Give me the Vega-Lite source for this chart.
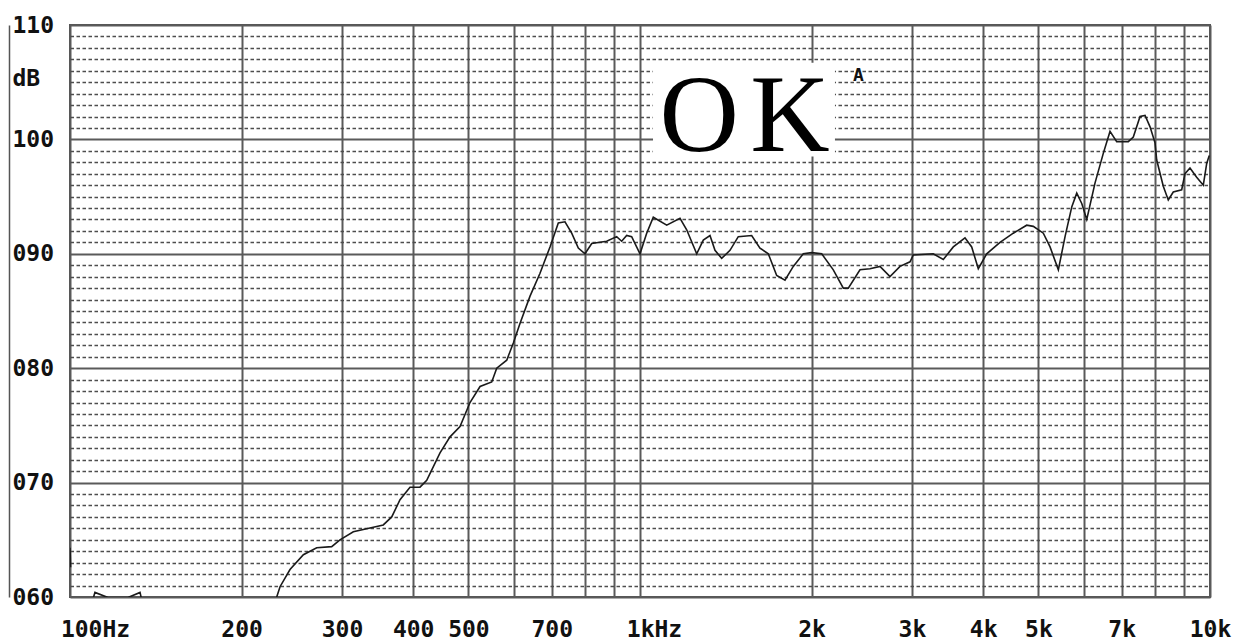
{
  "$schema": "https://vega.github.io/schema/vega-lite/v6.json",
  "width": 1140,
  "height": 572,
  "autosize": {"type": "none"},
  "padding": {"left": 70, "top": 25, "right": 32, "bottom": 47},
  "background": "white",
  "config": {
    "view": {"stroke": "#555555", "strokeWidth": 2},
    "axis": {"labelFont": "DejaVu Sans Mono", "labelFontWeight": "bold", "labelFontSize": 23, "labelColor": "#111111"}
  },
  "resolve": {"axis": {"x": "independent", "y": "independent"}},
  "layer": [
    {
      "data": {"values": [{"f1": 1054, "f2": 2198, "d1": 98.5, "d2": 106.7}]},
      "mark": {"type": "rect", "fill": "white", "stroke": null},
      "encoding": {
        "x": {"field": "f1", "type": "quantitative", "scale": {"type": "log", "domain": [100, 10000], "nice": false}, "axis": null},
        "x2": {"field": "f2"},
        "y": {"field": "d1", "type": "quantitative", "scale": {"domain": [60, 110], "nice": false, "zero": false},
          "axis": {"orient": "left", "values": [61,62,63,64,65,66,67,68,69,71,72,73,74,75,76,77,78,79,81,82,83,84,85,86,87,88,89,91,92,93,94,95,96,97,98,99,101,102,103,104,105,106,107,108,109],
            "grid": true, "gridDash": [3.5, 2.5], "gridColor": "#4d4d4d", "gridWidth": 1.3, "labels": false, "ticks": false, "tickSize": 0, "domain": false, "title": null}},
        "y2": {"field": "d2"}
      }
    },
    {
      "data": {"values": [
        {"s": 1, "f": 100, "db": 64.3}, {"s": 1, "f": 100.25, "db": 62.6},
        {"s": 2, "f": 108.5, "db": 59.0}, {"s": 2, "f": 110.6, "db": 60.4}, {"s": 2, "f": 116.6, "db": 59.95}, {"s": 2, "f": 126.4, "db": 59.95}, {"s": 2, "f": 132.7, "db": 60.4}, {"s": 2, "f": 136, "db": 58}, {"s": 2, "f": 200, "db": 45}, {"s": 2, "f": 225, "db": 55},
        {"s": 2, "f": 230.5, "db": 60.0}, {"s": 2, "f": 233.6, "db": 60.9}, {"s": 2, "f": 243.2, "db": 62.4}, {"s": 2, "f": 256.7, "db": 63.7}, {"s": 2, "f": 270.9, "db": 64.3}, {"s": 2, "f": 287.8, "db": 64.4}, {"s": 2, "f": 297.6, "db": 65.0}, {"s": 2, "f": 314.1, "db": 65.7}, {"s": 2, "f": 340.5, "db": 66.1}, {"s": 2, "f": 354.5, "db": 66.3}, {"s": 2, "f": 366.8, "db": 67.0}, {"s": 2, "f": 379.3, "db": 68.5}, {"s": 2, "f": 394.9, "db": 69.6}, {"s": 2, "f": 411.2, "db": 69.6}, {"s": 2, "f": 422.5, "db": 70.2}, {"s": 2, "f": 445.8, "db": 72.6}, {"s": 2, "f": 464.2, "db": 74.0}, {"s": 2, "f": 483.3, "db": 74.9}, {"s": 2, "f": 503.2, "db": 77.0}, {"s": 2, "f": 524.1, "db": 78.4}, {"s": 2, "f": 549.4, "db": 78.8}, {"s": 2, "f": 560.6, "db": 80.0}, {"s": 2, "f": 583.7, "db": 80.7}, {"s": 2, "f": 599.5, "db": 82.2}, {"s": 2, "f": 615.8, "db": 83.9}, {"s": 2, "f": 641.3, "db": 86.3}, {"s": 2, "f": 667.7, "db": 88.3}, {"s": 2, "f": 695.2, "db": 90.6}, {"s": 2, "f": 718.9, "db": 92.7}, {"s": 2, "f": 738.6, "db": 92.8}, {"s": 2, "f": 758.9, "db": 91.8}, {"s": 2, "f": 779.4, "db": 90.5}, {"s": 2, "f": 800.8, "db": 90.0}, {"s": 2, "f": 822.8, "db": 90.9}, {"s": 2, "f": 874.0, "db": 91.1}, {"s": 2, "f": 910.0, "db": 91.5}, {"s": 2, "f": 928.6, "db": 91.1}, {"s": 2, "f": 947.6, "db": 91.6}, {"s": 2, "f": 966.9, "db": 91.5}, {"s": 2, "f": 1000, "db": 90.0},
        {"s": 2, "f": 1027.4, "db": 91.8}, {"s": 2, "f": 1055.2, "db": 93.2}, {"s": 2, "f": 1114.0, "db": 92.5}, {"s": 2, "f": 1175.4, "db": 93.1}, {"s": 2, "f": 1207.6, "db": 92.1}, {"s": 2, "f": 1257.4, "db": 90.0}, {"s": 2, "f": 1291.4, "db": 91.2}, {"s": 2, "f": 1326.8, "db": 91.6}, {"s": 2, "f": 1353.8, "db": 90.3}, {"s": 2, "f": 1390.9, "db": 89.6}, {"s": 2, "f": 1438.4, "db": 90.3}, {"s": 2, "f": 1487.4, "db": 91.5}, {"s": 2, "f": 1570.1, "db": 91.6}, {"s": 2, "f": 1623.7, "db": 90.5}, {"s": 2, "f": 1679.1, "db": 90.0}, {"s": 2, "f": 1737.0, "db": 88.1}, {"s": 2, "f": 1796.3, "db": 87.7}, {"s": 2, "f": 1857.5, "db": 88.9}, {"s": 2, "f": 1934.1, "db": 90.0}, {"s": 2, "f": 2000.9, "db": 90.1}, {"s": 2, "f": 2083.4, "db": 90.0}, {"s": 2, "f": 2183.3, "db": 88.6}, {"s": 2, "f": 2273.3, "db": 87.0}, {"s": 2, "f": 2319.7, "db": 87.0}, {"s": 2, "f": 2432.0, "db": 88.6}, {"s": 2, "f": 2532.2, "db": 88.7}, {"s": 2, "f": 2636.7, "db": 88.9}, {"s": 2, "f": 2745.4, "db": 88.0}, {"s": 2, "f": 2858.5, "db": 88.9}, {"s": 2, "f": 2976.4, "db": 89.3}, {"s": 2, "f": 3016.3, "db": 89.9}, {"s": 2, "f": 3269.3, "db": 90.0}, {"s": 2, "f": 3405.0, "db": 89.5}, {"s": 2, "f": 3545.3, "db": 90.6}, {"s": 2, "f": 3716.7, "db": 91.4}, {"s": 2, "f": 3818.7, "db": 90.6}, {"s": 2, "f": 3922.0, "db": 88.7}, {"s": 2, "f": 4057.3, "db": 90.0}, {"s": 2, "f": 4281.3, "db": 91.0}, {"s": 2, "f": 4517.5, "db": 91.8}, {"s": 2, "f": 4768.9, "db": 92.5}, {"s": 2, "f": 4897.8, "db": 92.4}, {"s": 2, "f": 5100, "db": 91.8}, {"s": 2, "f": 5240.6, "db": 90.6}, {"s": 2, "f": 5419.3, "db": 88.6}, {"s": 2, "f": 5568, "db": 91.5}, {"s": 2, "f": 5720.9, "db": 94.1}, {"s": 2, "f": 5837.3, "db": 95.3}, {"s": 2, "f": 5956.5, "db": 94.4}, {"s": 2, "f": 6078.1, "db": 93.0}, {"s": 2, "f": 6285.5, "db": 96.2}, {"s": 2, "f": 6500, "db": 98.8}, {"s": 2, "f": 6676.8, "db": 100.7}, {"s": 2, "f": 6860.1, "db": 99.8}, {"s": 2, "f": 7189.3, "db": 99.8}, {"s": 2, "f": 7336, "db": 100.2}, {"s": 2, "f": 7538.5, "db": 102.0}, {"s": 2, "f": 7692.1, "db": 102.1}, {"s": 2, "f": 7849.2, "db": 101.1}, {"s": 2, "f": 8008.1, "db": 99.7}, {"s": 2, "f": 8063.3, "db": 98.2}, {"s": 2, "f": 8280.2, "db": 95.9}, {"s": 2, "f": 8449.1, "db": 94.7}, {"s": 2, "f": 8621.5, "db": 95.4}, {"s": 2, "f": 8919.4, "db": 95.6}, {"s": 2, "f": 9039.1, "db": 97.0}, {"s": 2, "f": 9223.7, "db": 97.5}, {"s": 2, "f": 9475.8, "db": 96.7}, {"s": 2, "f": 9733.1, "db": 96.0}, {"s": 2, "f": 9867.7, "db": 97.9}, {"s": 2, "f": 9971.7, "db": 98.6}
      ]},
      "mark": {"type": "line", "clip": true, "stroke": "#1a1a1a", "strokeWidth": 1.6, "interpolate": "linear"},
      "encoding": {
        "x": {"field": "f", "type": "quantitative", "scale": {"type": "log", "domain": [100, 10000], "nice": false},
          "axis": {"orient": "bottom", "values": [100,200,300,400,500,600,700,800,900,1000,2000,3000,4000,5000,6000,7000,8000,9000,10000],
            "grid": true, "gridColor": "#5a5a5a", "gridWidth": 2, "ticks": false, "tickSize": 0, "domain": false,
            "labelPadding": 21, "labelBaseline": "top", "labelAlign": "center",
            "labelOffset": {"condition": [{"test": "datum.value == 100", "value": 25}, {"test": "datum.value == 1000", "value": 14}], "value": 0},
            "labelExpr": "datum.value == 100 ? '100Hz' : datum.value == 1000 ? '1kHz' : datum.value == 10000 ? '10k' : datum.value > 1000 ? (indexof([2000,3000,4000,5000,7000], datum.value) >= 0 ? (datum.value / 1000) + 'k' : '') : (indexof([200,300,400,500,700], datum.value) >= 0 ? '' + datum.value : '')",
            "labelOverlap": false, "labelFlush": false, "labelBound": false, "title": null}},
        "y": {"field": "db", "type": "quantitative", "scale": {"domain": [60, 110], "nice": false, "zero": false},
          "axis": {"orient": "left", "values": [60, 70, 80, 90, 100, 110], "grid": true, "gridColor": "#5a5a5a", "gridWidth": 2, "labels": false, "ticks": false, "tickSize": 0, "domain": false, "title": null}},
        "detail": {"field": "s", "type": "nominal"}
      }
    },
    {
      "data": {"values": [{"t": "O", "f": 1270, "db": 99.0}, {"t": "K", "f": 1833, "db": 99.0}]},
      "mark": {"type": "text", "font": "Liberation Serif", "fontSize": 110, "baseline": "alphabetic", "align": "center", "color": "#000000"},
      "encoding": {
        "x": {"field": "f", "type": "quantitative", "scale": {"type": "log", "domain": [100, 10000], "nice": false}, "axis": null},
        "y": {"field": "db", "type": "quantitative", "scale": {"domain": [60, 110], "nice": false, "zero": false},
          "axis": {"orient": "left", "values": [60, 70, 80, 90, 100, 105.3, 110], "grid": false, "ticks": false, "tickSize": 0,
            "domain": true, "domainColor": "#555555", "domainWidth": 1.5, "offset": 61,
            "labelAlign": "left", "labelPadding": -3, "labelBaseline": "middle",
            "labelExpr": "datum.value == 105.3 ? 'dB' : (datum.value < 100 ? '0' + datum.value : '' + datum.value)",
            "labelOverlap": false, "labelFlush": false, "labelBound": false, "title": null}},
        "text": {"field": "t"}
      }
    },
    {
      "data": {"values": [{"t": "A", "f": 2417, "db": 105.1}]},
      "mark": {"type": "text", "font": "DejaVu Sans Mono", "fontWeight": "bold", "fontSize": 18, "baseline": "alphabetic", "align": "center", "color": "#111111"},
      "encoding": {
        "x": {"field": "f", "type": "quantitative", "scale": {"type": "log", "domain": [100, 10000], "nice": false}, "axis": null},
        "y": {"field": "db", "type": "quantitative", "scale": {"domain": [60, 110], "nice": false, "zero": false}, "axis": null},
        "text": {"field": "t"}
      }
    }
  ]
}
